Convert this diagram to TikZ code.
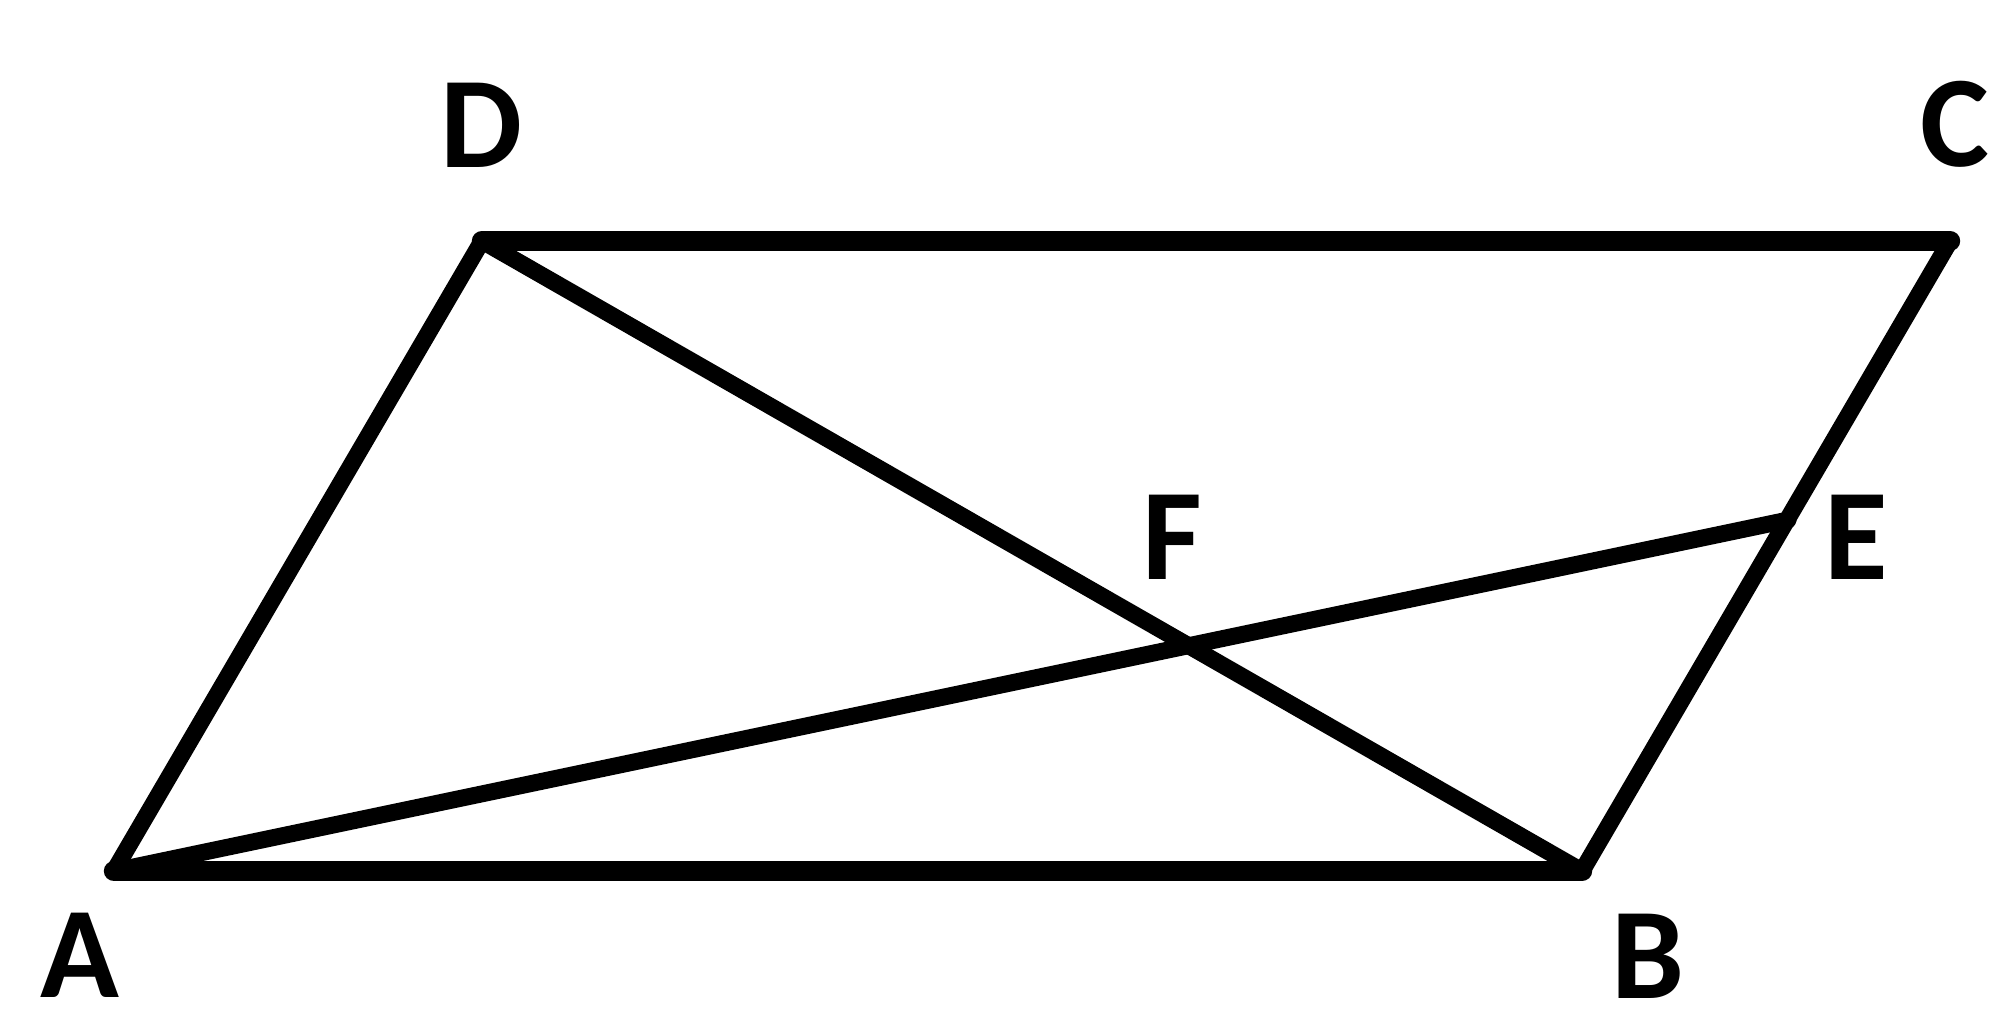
\documentclass[tikz,border=0pt]{standalone}
\usepackage{fontspec}
\setmainfont{Carlito}
\begin{document}
\begin{tikzpicture}[x=0.01cm,y=-0.01cm,
  edge/.style={line width=4.8pt,line cap=round,line join=round},
  base/.style={line width=5.8pt,line cap=round},
  lbl/.style={font=\fontsize{37}{40}\selectfont\bfseries,inner sep=0pt}]
\useasboundingbox[fill=white] (0,0) rectangle (2000,1026);
\coordinate (A) at (114,871);
\coordinate (B) at (1582,871);
\coordinate (C) at (1950,241);
\coordinate (D) at (482,241);
\coordinate (E) at (1788,520);
\draw[edge] (A) -- (B) -- (C) -- (D) -- cycle;
\draw[base] (D) -- (C);
\draw[base] (A) -- (B);
\draw[edge] (D) -- (B);
\draw[edge] (A) -- (E);
\node[lbl] (lD) at (482,125) {D};
\node[lbl] (lC) at (1955,124) {C};
\node[lbl] (lA) at (80,955) {A};
\node[lbl] (lB) at (1648,956) {B};
\node[lbl] (lE) at (1856,537) {E};
\node[lbl] (lF) at (1172,537) {F};
\end{tikzpicture}
\end{document}
